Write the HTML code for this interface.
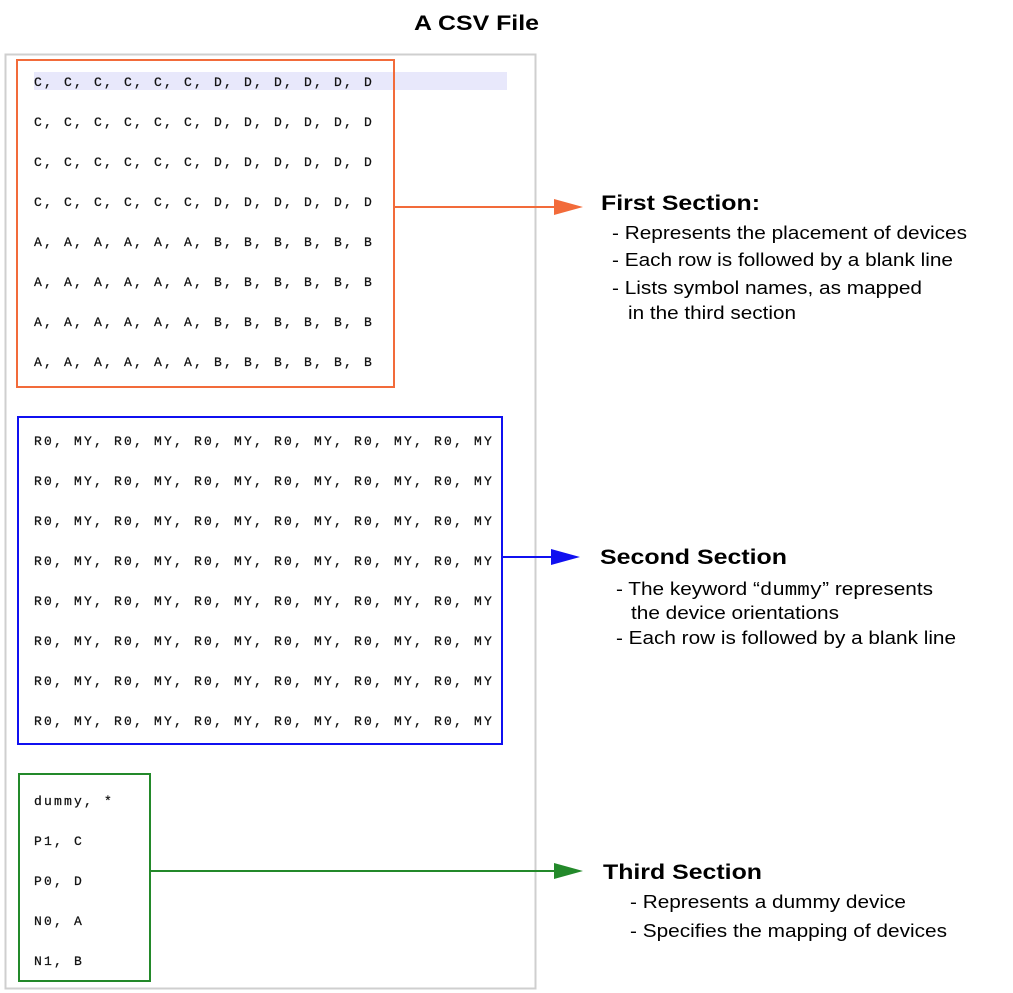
<!DOCTYPE html>
<html><head><meta charset="utf-8"><style>
html,body{margin:0;padding:0;background:#fff;}
svg{display:block;}
.m{font-family:"Liberation Mono",monospace;font-size:13px;letter-spacing:2.2px;fill:#111;stroke:#111;stroke-width:0.25px;}
.h{font-family:"Liberation Sans",sans-serif;font-weight:bold;font-size:21px;fill:#000;}
.t{font-family:"Liberation Sans",sans-serif;font-size:18px;fill:#000;}
</style></head><body>
<svg width="1013" height="993" viewBox="0 0 1013 993" xmlns="http://www.w3.org/2000/svg">
<text class="h" x="414" y="30" textLength="125" lengthAdjust="spacingAndGlyphs">A CSV File</text>
<rect x="5.5" y="54.5" width="530" height="934" fill="none" stroke="#cfcfcf" stroke-width="2"/>
<rect x="34" y="72" width="473" height="18" fill="#e8e8fb"/>
<rect x="17" y="60" width="377" height="327" fill="none" stroke="#f26b3a" stroke-width="2"/>
<g class="m">
<text x="34" y="86">C, C, C, C, C, C, D, D, D, D, D, D</text>
<text x="34" y="126">C, C, C, C, C, C, D, D, D, D, D, D</text>
<text x="34" y="166">C, C, C, C, C, C, D, D, D, D, D, D</text>
<text x="34" y="206">C, C, C, C, C, C, D, D, D, D, D, D</text>
<text x="34" y="246">A, A, A, A, A, A, B, B, B, B, B, B</text>
<text x="34" y="286">A, A, A, A, A, A, B, B, B, B, B, B</text>
<text x="34" y="326">A, A, A, A, A, A, B, B, B, B, B, B</text>
<text x="34" y="366">A, A, A, A, A, A, B, B, B, B, B, B</text>
</g>
<rect x="18" y="417" width="484" height="327" fill="none" stroke="#1010f0" stroke-width="2"/>
<g class="m">
<text x="34" y="445">R0, MY, R0, MY, R0, MY, R0, MY, R0, MY, R0, MY</text>
<text x="34" y="485">R0, MY, R0, MY, R0, MY, R0, MY, R0, MY, R0, MY</text>
<text x="34" y="525">R0, MY, R0, MY, R0, MY, R0, MY, R0, MY, R0, MY</text>
<text x="34" y="565">R0, MY, R0, MY, R0, MY, R0, MY, R0, MY, R0, MY</text>
<text x="34" y="605">R0, MY, R0, MY, R0, MY, R0, MY, R0, MY, R0, MY</text>
<text x="34" y="645">R0, MY, R0, MY, R0, MY, R0, MY, R0, MY, R0, MY</text>
<text x="34" y="685">R0, MY, R0, MY, R0, MY, R0, MY, R0, MY, R0, MY</text>
<text x="34" y="725">R0, MY, R0, MY, R0, MY, R0, MY, R0, MY, R0, MY</text>
</g>
<rect x="19" y="774" width="131" height="207" fill="none" stroke="#23892a" stroke-width="2"/>
<g class="m">
<text x="34" y="805">dummy, *</text>
<text x="34" y="845">P1, C</text>
<text x="34" y="885">P0, D</text>
<text x="34" y="925">N0, A</text>
<text x="34" y="965">N1, B</text>
</g>
<line x1="394" y1="207" x2="558" y2="207" stroke="#f26b3a" stroke-width="2"/>
<polygon points="554,199 583,207 554,215" fill="#f26b3a"/>
<line x1="502" y1="557" x2="555" y2="557" stroke="#1010f0" stroke-width="2"/>
<polygon points="551,549 580,557 551,565" fill="#1010f0"/>
<line x1="150" y1="871" x2="558" y2="871" stroke="#23892a" stroke-width="2"/>
<polygon points="554,863 583,871 554,879" fill="#23892a"/>
<text class="h" x="601" y="210" textLength="159" lengthAdjust="spacingAndGlyphs">First Section:</text>
<text class="t" x="612" y="239" textLength="355" lengthAdjust="spacingAndGlyphs">- Represents the placement of devices</text>
<text class="t" x="612" y="266" textLength="341" lengthAdjust="spacingAndGlyphs">- Each row is followed by a blank line</text>
<text class="t" x="612" y="294" textLength="310" lengthAdjust="spacingAndGlyphs">- Lists symbol names, as mapped</text>
<text class="t" x="628" y="319" textLength="168" lengthAdjust="spacingAndGlyphs">in the third section</text>
<text class="h" x="600" y="564" textLength="187" lengthAdjust="spacingAndGlyphs">Second Section</text>
<text class="t" x="616" y="595" textLength="317" lengthAdjust="spacingAndGlyphs">- The keyword “<tspan font-family="Liberation Mono">dummy</tspan>” represents</text>
<text class="t" x="631" y="619" textLength="208" lengthAdjust="spacingAndGlyphs">the device orientations</text>
<text class="t" x="616" y="644" textLength="340" lengthAdjust="spacingAndGlyphs">- Each row is followed by a blank line</text>
<text class="h" x="603" y="879" textLength="159" lengthAdjust="spacingAndGlyphs">Third Section</text>
<text class="t" x="630" y="908" textLength="276" lengthAdjust="spacingAndGlyphs">- Represents a dummy device</text>
<text class="t" x="630" y="937" textLength="317" lengthAdjust="spacingAndGlyphs">- Specifies the mapping of devices</text>
</svg>
</body></html>
